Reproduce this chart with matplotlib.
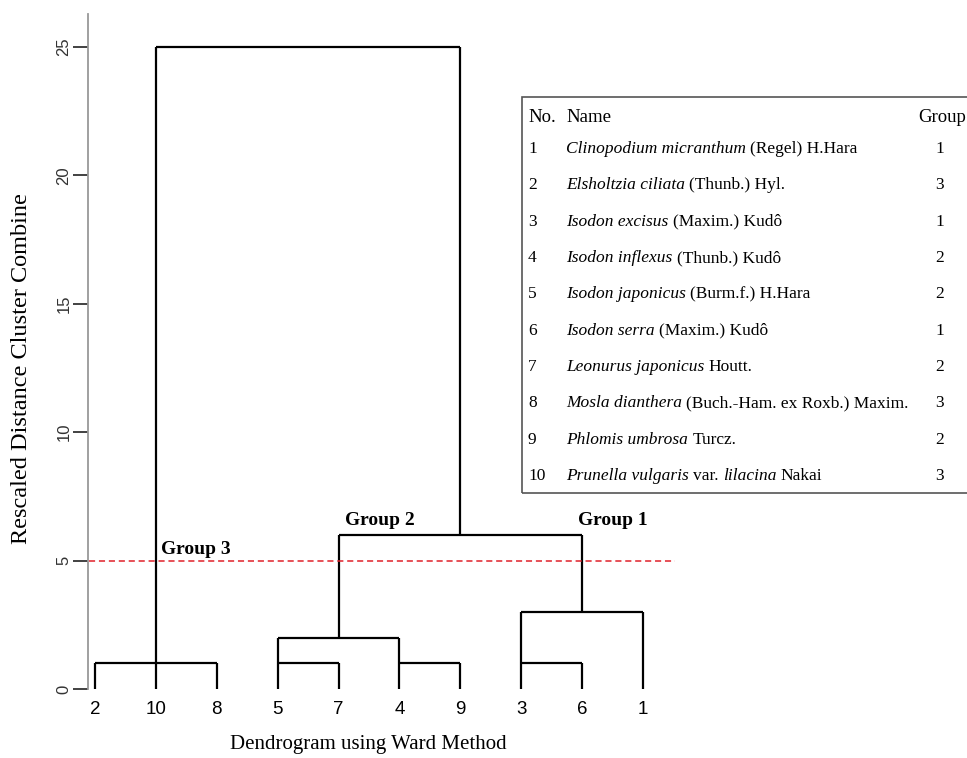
import matplotlib
matplotlib.use("Agg")
import matplotlib.pyplot as plt
import numpy as np
from matplotlib.patches import Rectangle

# leaf order along the x axis
leaf_order = [2, 10, 8, 5, 7, 4, 9, 3, 6, 1]

# horizontal joins: (from leaf, to leaf, height)
joins = [(2, 8, 1), (5, 7, 1), (4, 9, 1), (3, 6, 1),
         (5, 4, 2), (3, 1, 3), (7, 6, 6), (10, 9, 25)]

# vertical stems: (at leaf, bottom, top)
stems = [(2, 0, 1), (10, 0, 25), (8, 0, 1), (5, 0, 2), (7, 0, 1),
         (4, 0, 2), (9, 0, 1), (3, 0, 3), (6, 0, 1), (1, 0, 3),
         (7, 2, 6), (6, 3, 6), (9, 6, 25)]

cut_height = 5
group_labels = ["Group 3", "Group 2", "Group 1"]

species_no = list(range(1, 11))
species_names = [
    [("Clinopodium micranthum", True), ("(Regel) H.Hara", False)],
    [("Elsholtzia ciliata", True), ("(Thunb.) Hyl.", False)],
    [("Isodon excisus", True), ("(Maxim.) Kudô", False)],
    [("Isodon inflexus", True), ("(Thunb.) Kudô", False)],
    [("Isodon japonicus", True), ("(Burm.f.) H.Hara", False)],
    [("Isodon serra", True), ("(Maxim.) Kudô", False)],
    [("Leonurus japonicus", True), ("Houtt.", False)],
    [("Mosla dianthera", True), ("(Buch.-Ham. ex Roxb.) Maxim.", False)],
    [("Phlomis umbrosa", True), ("Turcz.", False)],
    [("Prunella vulgaris", True), ("var.", False), ("lilacina", True), ("Nakai", False)],
]
species_group = [1, 3, 1, 2, 2, 1, 2, 3, 2, 3]

W, H = 967, 758
fig = plt.figure(figsize=(W / 100, H / 100), dpi=100)
ax = fig.add_axes([88 / W, 1 - 696.7 / H, 600.7 / W, 683.1 / H])

pos = {leaf: i + 1 for i, leaf in enumerate(leaf_order)}

for a, b, h in joins:
    ax.plot([pos[a], pos[b]], [h, h], color="black", lw=1.6, solid_capstyle="butt")
for leaf, lo, hi in stems:
    ax.plot([pos[leaf], pos[leaf]], [lo, hi], color="black", lw=1.6, solid_capstyle="butt")

ax.hlines(cut_height, 0.9, 10.53, colors="#e0202a", linestyles=(0, (4, 2.5)), lw=1.1)

serif = "Liberation Serif"
ax.text(2.08, 5.45, group_labels[0], family=serif, weight="bold", fontsize=14, va="center")
ax.text(5.68, 6.55, group_labels[1], family=serif, weight="bold", fontsize=14, va="center", ha="center")
ax.text(9.5, 6.55, group_labels[2], family=serif, weight="bold", fontsize=14, va="center", ha="center")

ax.set_xlim(0.885, 10.75)
ax.set_ylim(-0.3, 26.3)
ax.set_xticks(range(1, 11))
ax.set_xticklabels([str(l) for l in leaf_order], family="Liberation Sans", fontsize=13.5)
ax.tick_params(axis="x", length=0, pad=3)
ax.set_yticks([0, 5, 10, 15, 20, 25])
ax.set_yticklabels(["0", "5", "10", "15", "20", "25"], family="Liberation Sans",
                   fontsize=12, rotation=90, va="center", color="#333333")
ax.tick_params(axis="y", length=11, width=1.3, color="#333333", pad=1)
for s in ["top", "right", "bottom"]:
    ax.spines[s].set_visible(False)
ax.spines["left"].set_bounds(0, 26.3)
ax.spines["left"].set_color("#999999")
ax.spines["left"].set_linewidth(1.3)

fig.text(22 / W, 1 - 369 / H, "Rescaled Distance Cluster Combine", family=serif,
         fontsize=17.5, rotation=90, ha="center", va="center")
fig.text(368 / W, 1 - 745 / H, "Dendrogram using Ward Method", family=serif,
         fontsize=15, ha="center", va="center")

# species table
fig.add_artist(Rectangle((522 / W, 1 - 493 / H), 480 / W, 396 / H, transform=fig.transFigure,
                         fill=False, edgecolor="#555555", lw=1.2))
fs = 12.5
hs = 13.5
fig.text(528 / W, 1 - 117 / H, "No.", family=serif, fontsize=hs, va="center")
fig.text(566 / W, 1 - 117 / H, "Name", family=serif, fontsize=hs, va="center")
fig.text(918 / W, 1 - 117 / H, "Group", family=serif, fontsize=hs, va="center")

fig.canvas.draw()
renderer = fig.canvas.get_renderer()
space = fig.text(0, 0, "a a", family=serif, fontsize=fs)
nosp = fig.text(0, 0, "aa", family=serif, fontsize=fs)
gap = space.get_window_extent(renderer).width - nosp.get_window_extent(renderer).width
space.remove()
nosp.remove()

row_y = np.linspace(149, 476, len(species_no))
for no, parts, grp, y in zip(species_no, species_names, species_group, row_y):
    fy = 1 - y / H
    fig.text(528 / W, fy, str(no), family=serif, fontsize=fs, va="center")
    fig.text(940 / W, fy, str(grp), family=serif, fontsize=fs, va="center", ha="center")
    x = 566
    for txt, italic in parts:
        t = fig.text(x / W, fy, txt, family=serif, fontsize=fs, va="center",
                     style="italic" if italic else "normal")
        x += t.get_window_extent(renderer).width + gap

fig.savefig("out.png", dpi=100)
